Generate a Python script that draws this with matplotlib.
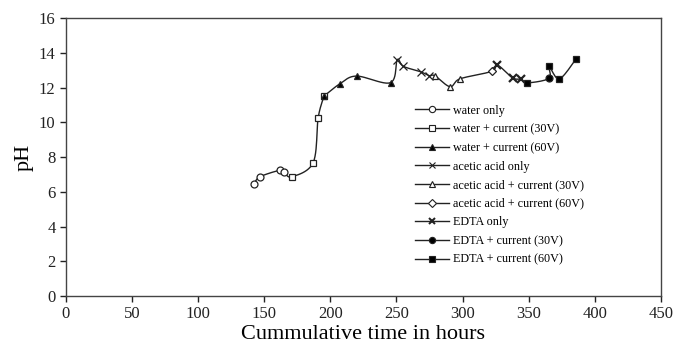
import numpy as np
import matplotlib.pyplot as plt

plt.rcParams['font.family'] = ['Liberation Serif', 'DejaVu Serif']

# Series: (cumulative hours, pH)
water_x = [142.2, 146.7, 161.9, 165.1]
water_y = [6.44, 6.86, 7.24, 7.14]
water30_x = [170.7, 187.0, 190.8, 195.2]
water30_y = [6.86, 7.68, 10.27, 11.51]
water60_x = [195.2, 207.3, 219.8, 245.5]
water60_y = [11.51, 12.22, 12.66, 12.28]
acetic_x = [250.6, 255.2, 268.5, 274.8]
acetic_y = [13.6, 13.22, 12.9, 12.68]
acetic30_x = [279.0, 290.5, 298.0]
acetic30_y = [12.68, 12.05, 12.5]
acetic60_x = [322.0]
acetic60_y = [12.93]
edta_x = [326.2, 337.8, 343.9]
edta_y = [13.3, 12.56, 12.47]
edta30_x = [365.4]
edta30_y = [12.53]
edta60_x = [348.9, 365.4, 373.2, 385.8]
edta60_y = [12.27, 13.22, 12.5, 13.64]

series = [
    ('water only', water_x, water_y, 'o', 'white'),
    ('water + current (30V)', water30_x, water30_y, 's', 'white'),
    ('water + current (60V)', water60_x, water60_y, '^', 'black'),
    ('acetic acid only', acetic_x, acetic_y, 'x', 'black'),
    ('acetic acid + current (30V)', acetic30_x, acetic30_y, '^', 'white'),
    ('acetic acid + current (60V)', acetic60_x, acetic60_y, 'D', 'white'),
    ('EDTA only', edta_x, edta_y, 'x', 'black'),
    ('EDTA + current (30V)', edta30_x, edta30_y, 'o', 'black'),
    ('EDTA + current (60V)', edta60_x, edta60_y, 's', 'black'),
]
edge_w = [0.9, 0.9, 0.9, 0.9, 0.9, 0.9, 1.6, 0.9, 0.9]


def smooth(x, y, n=12):
    # Catmull-Rom style smoothing like a spreadsheet "smoothed line"
    px = np.concatenate([[x[0]], x, [x[-1]]])
    py = np.concatenate([[y[0]], y, [y[-1]]])
    t = np.linspace(0, 1, n, endpoint=False)[:, None]
    ox, oy = [], []
    for i in range(1, len(px) - 2):
        p0, p1, p2, p3 = [np.array([px[j], py[j]]) for j in (i - 1, i, i + 1, i + 2)]
        c1 = p1 + (p2 - p0) / 6
        c2 = p2 - (p3 - p1) / 6
        pts = ((1 - t) ** 3) * p1 + 3 * ((1 - t) ** 2) * t * c1 \
            + 3 * (1 - t) * t ** 2 * c2 + t ** 3 * p2
        ox.extend(pts[:, 0])
        oy.extend(pts[:, 1])
    ox.append(x[-1])
    oy.append(y[-1])
    return ox, oy


fig = plt.figure(figsize=(6.73, 3.47), dpi=100)
ax = fig.add_axes([0.098, 0.147, 0.884, 0.801])

# one continuous line through all points in time order
all_x = np.concatenate([s[1] for s in series])
all_y = np.concatenate([s[2] for s in series])
order = np.argsort(all_x, kind='stable')
lx, ly = smooth(all_x[order], all_y[order])
ax.plot(lx, ly, color='#222222', lw=1.0, zorder=2)

for (label, xs, ys, m, fc), mw in zip(series, edge_w):
    ms = {'x': 5.5, 'D': 4}.get(m, 5)
    ax.plot(xs, ys, ls='none', marker=m, ms=ms, mfc=fc, mec='#222222',
            mew=mw, zorder=3)

# legend handles: short line with the marker
handles = []
for (label, xs, ys, m, fc), mw in zip(series, edge_w):
    h, = ax.plot([], [], color='#222222', lw=1.0, marker=m, ms=4.5,
                 mfc=fc, mec='#222222', mew=mw * 0.9, label=label)
    handles.append(h)
leg = ax.legend(handles=handles, loc='upper left',
                bbox_to_anchor=(0.600, 0.73), bbox_transform=fig.transFigure,
                frameon=False, fontsize=8.7, handlelength=2.8,
                handletextpad=0.35, labelspacing=0.55)

ax.set_xlim(0, 450)
ax.set_ylim(0, 16)
ax.set_xticks(np.arange(0, 451, 50))
ax.set_yticks(np.arange(0, 17, 2))
ax.tick_params(direction='out', length=4, width=1, labelsize=12, colors='#222222')
for sp in ax.spines.values():
    sp.set_color('#444444')
    sp.set_linewidth(1.0)

ax.set_xlabel('Cummulative time in hours', fontsize=16, labelpad=2)
ax.set_ylabel('pH', fontsize=16, labelpad=4)

fig.savefig('out.png', dpi=100)
